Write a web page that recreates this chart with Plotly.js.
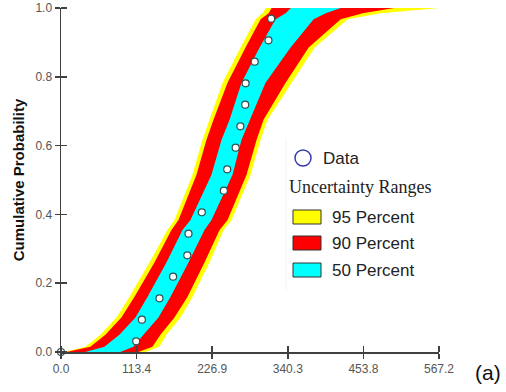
<!DOCTYPE html>
<html>
<head>
<meta charset="utf-8">
<script src="https://cdn.plot.ly/plotly-3.0.1.min.js"></script>
<style>html,body{margin:0;padding:0;background:#fff;}#chart{width:506px;height:392px;}</style>
</head>
<body>
<div id="chart"></div>
<script>
// ---- data ----
var probLevels = [0, 0.015, 0.05, 0.10, 0.16, 0.26, 0.355, 0.384, 0.515, 0.617, 0.675, 0.783, 0.885, 0.967, 0.985, 1.0];
var yellowLow  = [3.5, 36.5, 59.1, 83.1, 102.6, 132.7, 159.7, 170.2, 197.3, 212.3, 222.8, 242.4, 269.4, 292.0, 302.5, 307.3];
var redLow     = [8.0, 44.0, 66.6, 90.6, 110.1, 140.2, 165.7, 176.3, 203.3, 218.3, 228.8, 249.9, 276.9, 299.5, 311.5, 316.0];
var cyanLow    = [36.5, 65.1, 87.6, 111.7, 129.7, 158.2, 182.3, 194.3, 225.8, 240.9, 252.9, 270.9, 298.0, 322.0, 337.0, 345.0];
var cyanHigh   = [89.1, 108.6, 123.7, 146.2, 164.2, 191.3, 215.3, 225.8, 257.4, 270.9, 282.9, 306.9, 344.5, 379.1, 397.1, 420.0];
var redHigh    = [116.2, 137.2, 149.2, 170.2, 189.7, 215.3, 237.9, 249.9, 278.4, 293.5, 303.9, 337.0, 371.6, 419.7, 452.7, 500.0];
var yellowHigh = [126.7, 147.7, 158.2, 179.2, 197.3, 222.8, 243.9, 255.9, 284.4, 299.5, 309.9, 346.0, 380.6, 430.2, 479.8, 567.2];

var dataX = [0, 112.8, 121.4, 147.8, 168.2, 189.5, 191.3, 211.3, 244.4, 249.4, 262.1, 269.2, 276.4, 277.0, 290.6, 311.3, 315.4];
var dataY = [0, 0.031, 0.094, 0.156, 0.219, 0.281, 0.344, 0.406, 0.469, 0.531, 0.594, 0.656, 0.719, 0.781, 0.844, 0.906, 0.969];

var xTickVals = [0, 113.4, 226.9, 340.3, 453.8, 567.2];
var xTickText = ['0.0', '113.4', '226.9', '340.3', '453.8', '567.2'];
var yTickVals = [0, 0.2, 0.4, 0.6, 0.8, 1.0];
var yTickText = ['0.0', '0.2', '0.4', '0.6', '0.8', '1.0'];

var bandNames = ['95 Percent', '90 Percent', '50 Percent'];
var bandColors = ['#ffff00', '#ff0000', '#00ffff'];
var legendTitle = 'Uncertainty Ranges';
var dataName = 'Data';

// ---- build ----
function band(low, high, color, name) {
  var x = low.concat(high.slice().reverse());
  var y = probLevels.concat(probLevels.slice().reverse());
  return {x: x, y: y, type: 'scatter', mode: 'lines', fill: 'toself',
          fillcolor: color, line: {width: 0, color: color}, name: name,
          hoverinfo: 'skip', showlegend: false};
}
var traces = [
  band(yellowLow, yellowHigh, bandColors[0], bandNames[0]),
  band(redLow, redHigh, bandColors[1], bandNames[1]),
  band(cyanLow, cyanHigh, bandColors[2], bandNames[2]),
  {x: dataX, y: dataY, type: 'scatter', mode: 'markers', name: dataName,
   cliponaxis: false, showlegend: false,
   marker: {size: 7, color: '#ffffff', line: {color: '#2f4f4f', width: 1.2}}}
];

var W = 506, H = 392, L = 61, R = 67, T = 8, B = 40;
var PW = W - L - R, PH = H - T - B;
function px(v) { return (v - L) / PW; }
function py(v) { return (H - B - v) / PH; }

var axisColor = '#404040';
var tickFont = {family: 'Liberation Sans, Arial, sans-serif', size: 12, color: '#555555'};
var legFont = {family: 'Liberation Sans, Arial, sans-serif', size: 17, color: '#222222'};

var shapes = [
  {type: 'line', xref: 'paper', yref: 'paper', x0: px(286), x1: px(286), y0: py(140), y1: py(290),
   line: {color: '#f2f2f2', width: 1}},
  {type: 'circle', xref: 'paper', yref: 'paper', x0: px(295), x1: px(311), y0: py(150), y1: py(166),
   line: {color: '#3a3ab0', width: 1.5}, fillcolor: 'rgba(0,0,0,0)'}
];
var annotations = [
  {text: dataName, xref: 'paper', yref: 'paper', x: px(321), y: py(158), xanchor: 'left', yanchor: 'middle',
   showarrow: false, font: legFont},
  {text: legendTitle, xref: 'paper', yref: 'paper', x: px(287), y: py(187), xanchor: 'left', yanchor: 'middle',
   showarrow: false, font: {family: 'Liberation Serif, Times New Roman, serif', size: 18, color: '#222222'}},
  {text: '(a)', xref: 'paper', yref: 'paper', x: px(488), y: py(373), xanchor: 'center', yanchor: 'middle',
   showarrow: false, font: {family: 'Liberation Sans, Arial, sans-serif', size: 21, color: '#111111'}}
];
var rowY = [217, 243, 270];
for (var i = 0; i < bandNames.length; i++) {
  shapes.push({type: 'rect', xref: 'paper', yref: 'paper', x0: px(293), x1: px(321),
    y0: py(rowY[i] - 7), y1: py(rowY[i] + 7), fillcolor: bandColors[i], line: {color: '#333333', width: 1}});
  annotations.push({text: bandNames[i], xref: 'paper', yref: 'paper', x: px(330), y: py(rowY[i]),
    xanchor: 'left', yanchor: 'middle', showarrow: false, font: legFont});
}

// inner half of the crossing ticks, as minor ticks at (almost) the same values
function nudge(arr, d) { return arr.map(function (v) { return v + d; }); }

var layout = {
  width: W, height: H,
  margin: {l: L, r: R, t: T, b: B, pad: 0},
  paper_bgcolor: '#ffffff', plot_bgcolor: '#ffffff',
  showlegend: false,
  xaxis: {range: [0, 567.2], tickvals: xTickVals, ticktext: xTickText, showgrid: false, zeroline: false,
          showline: true, linecolor: axisColor, linewidth: 1.5, ticks: 'outside', ticklen: 5,
          tickwidth: 1.5, tickcolor: axisColor, tickfont: tickFont, fixedrange: true,
          minor: {tickvals: nudge(xTickVals, 0.01), ticks: 'inside', ticklen: 6, tickwidth: 1.5,
                  tickcolor: axisColor, showgrid: false}},
  yaxis: {range: [0, 1], tickvals: yTickVals, ticktext: yTickText, showgrid: false, zeroline: false,
          showline: true, linecolor: axisColor, linewidth: 1.5, ticks: 'outside', ticklen: 5,
          tickwidth: 1.5, tickcolor: axisColor, tickfont: tickFont, fixedrange: true,
          minor: {tickvals: nudge(yTickVals, 0.00002), ticks: 'inside', ticklen: 6, tickwidth: 1.5,
                  tickcolor: axisColor, showgrid: false},
          title: {text: '<b>Cumulative Probability</b>', standoff: 7,
                  font: {family: 'Liberation Sans, Arial, sans-serif', size: 15, color: '#111111'}}},
  shapes: shapes,
  annotations: annotations
};

Plotly.newPlot('chart', traces, layout, {displayModeBar: false, staticPlot: true});
</script>
</body>
</html>
